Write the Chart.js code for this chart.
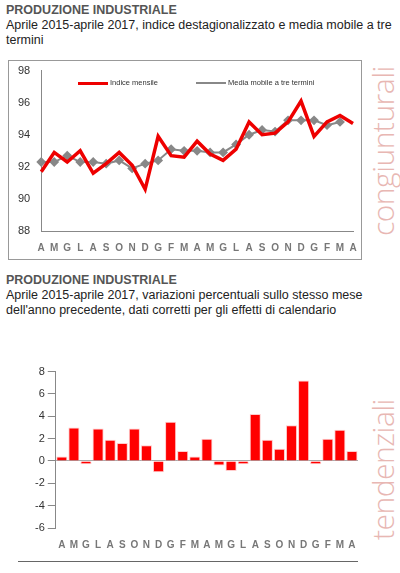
<!DOCTYPE html>
<html>
<head>
<meta charset="utf-8">
<script src="https://cdn.jsdelivr.net/npm/chart.js@4/dist/chart.umd.min.js"></script>
<style>
body { margin: 0; width: 400px; height: 573px; background: #fff; font-family: "Liberation Sans", Arial, sans-serif; position: relative; overflow: hidden; }
.t { position: absolute; left: 6px; font-size: 12.5px; color: #222; line-height: 15px; }
.t b { color: #555; font-size: 12.5px; }
.box { position: absolute; border: 1px solid #999; }
.side { position: absolute; transform: rotate(-90deg); transform-origin: left top; font-size: 30px; font-weight: 300; color: #e8b7b3; font-family: "Open Sans", sans-serif; letter-spacing: -0.5px; }
.rule { position: absolute; left: 18px; width: 340px; height: 1px; background: #666; }
.lg { position: absolute; top: 78px; font-size: 7.5px; color: #333; }
.lg i { display: inline-block; width: 30px; height: 3px; vertical-align: middle; margin-right: 2px; }
</style>
</head>
<body>
<div class="t" style="top:3px"><b>PRODUZIONE INDUSTRIALE</b><br>Aprile 2015-aprile 2017, indice destagionalizzato e media mobile a tre<br>termini</div>
<div class="box" style="left:8px;top:60px;width:352px;height:198px"><canvas id="c1"></canvas></div>
<div class="lg" style="left:78px"><i style="background:#ee0000"></i>Indice mensile</div>
<div class="lg" style="left:196px"><i style="background:#888;height:2px"></i>Media mobile a tre termini</div>
<div class="side" style="left:362px;top:236px">congiunturali</div>
<div class="t" style="top:273px"><b>PRODUZIONE INDUSTRIALE</b><br>Aprile 2015-aprile 2017, variazioni percentuali sullo stesso mese<br>dell'anno precedente, dati corretti per gli effetti di calendario</div>
<div style="position:absolute;left:8px;top:362px;width:352px;height:192px"><canvas id="c2"></canvas></div>
<div class="side" style="left:362px;top:540px">tendenziali</div>
<div class="rule" style="top:561px"></div>
<script>
const months = ['A','M','G','L','A','S','O','N','D','G','F','M','A','M','G','L','A','S','O','N','D','G','F','M','A'];
const indiceMensile = [91.7,92.9,92.3,93.0,91.6,92.2,92.9,92.1,90.6,93.9,92.7,92.6,93.6,92.8,92.4,93.1,94.8,94.0,94.1,94.8,96.1,93.9,94.8,95.2,94.7];
const mediaMobile = [92.3,92.3,92.7,92.3,92.3,92.2,92.4,91.9,92.2,92.4,93.1,93.0,93.0,92.9,92.9,93.4,94.0,94.3,94.2,94.9,94.9,94.9,94.6,94.8,null];
const variazioni = [0.4,3.0,-0.3,2.9,1.9,1.6,2.9,1.4,-1.0,3.5,0.9,0.4,2.0,-0.4,-0.9,-0.3,4.2,1.9,1.1,3.2,7.2,-0.3,2.0,2.8,0.9];

const font = { family: '"Liberation Sans", Arial, sans-serif', size: 11 };
const xTicks = { color: '#777', font: { family: font.family, size: 10, weight: 'bold' }, autoSkip: false, maxRotation: 0 };

new Chart(document.getElementById('c1'), {
    type: 'line',
    data: {
        labels: months,
        datasets: [{
            label: 'Indice mensile',
            data: indiceMensile,
            borderColor: '#ee0000',
            borderWidth: 3.5,
            pointRadius: 0,
            tension: 0
        }, {
            label: 'Media mobile a tre termini',
            data: mediaMobile,
            borderColor: '#888',
            backgroundColor: '#888',
            borderWidth: 2,
            pointStyle: 'rectRot',
            pointRadius: 3.5,
            tension: 0
        }]
    },
    options: {
        responsive: true,
        maintainAspectRatio: false,
        animation: false,
        layout: { padding: { left: 6, right: 8, top: 6, bottom: 2 } },
        plugins: { legend: { display: false }, tooltip: { enabled: false } },
        scales: {
            x: { grid: { display: false }, border: { color: '#888' }, ticks: xTicks },
            y: {
                min: 88, max: 98,
                ticks: { stepSize: 2, color: '#333', font: font },
                grid: { display: false },
                border: { color: '#888' }
            }
        }
    }
});

new Chart(document.getElementById('c2'), {
    type: 'bar',
    data: {
        labels: months,
        datasets: [{
            data: variazioni,
            backgroundColor: '#ff0000',
            borderColor: '#ffcccc',
            borderWidth: 1,
            categoryPercentage: 1,
            barPercentage: 0.92
        }]
    },
    options: {
        responsive: true,
        maintainAspectRatio: false,
        animation: false,
        layout: { padding: { left: 24, right: 2, top: 6, bottom: 0 } },
        plugins: { legend: { display: false }, tooltip: { enabled: false } },
        scales: {
            x: { grid: { display: false }, border: { display: false }, ticks: xTicks },
            y: {
                min: -6, max: 8,
                ticks: { stepSize: 2, color: '#333', font: font },
                grid: {
                    drawOnChartArea: true,
                    color: ctx => ctx.tick && ctx.tick.value === 0 ? '#aaa' : 'rgba(0,0,0,0)',
                    tickColor: '#888'
                },
                border: { color: '#888' }
            }
        }
    }
});
</script>
</body>
</html>
